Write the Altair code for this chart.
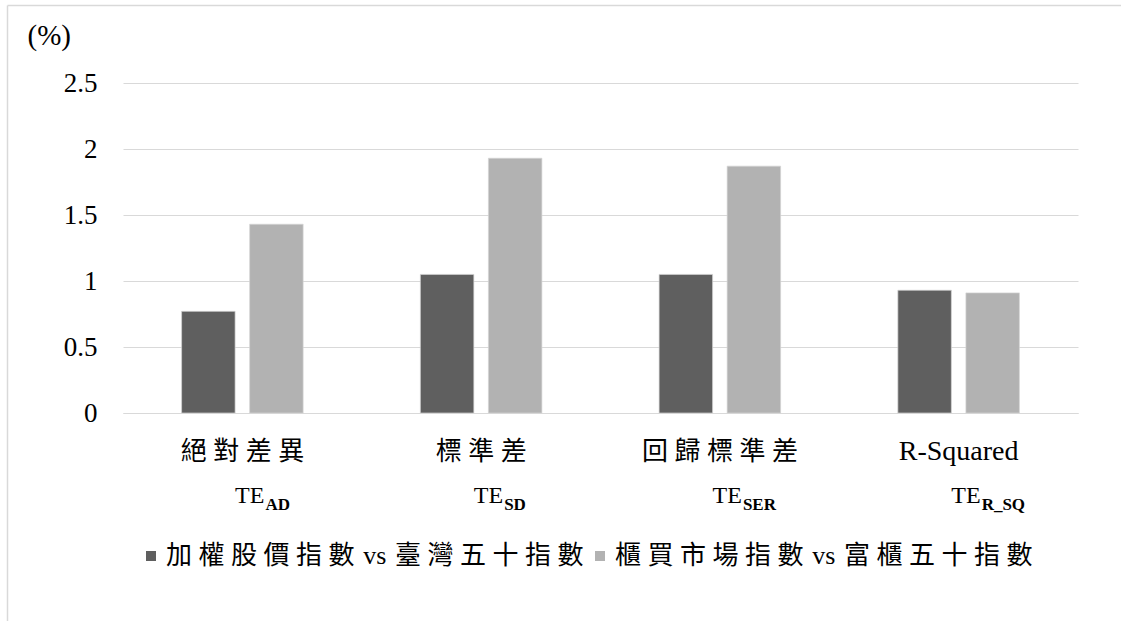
import altair as alt
import pandas as pd

# Tracking-error measures (category labels and their TE subscripts)
categories = ["絕對差異", "標準差", "回歸標準差", "R-Squared"]
subscripts = ["AD", "SD", "SER", "R_SQ"]

# Index pairs compared
series = ["加權股價指數 vs 臺灣五十指數", "櫃買市場指數 vs 富櫃五十指數"]

# Values in percent
taiex_vs_tw50 = [0.77, 1.05, 1.05, 0.93]
otc_vs_gtsm50 = [1.43, 1.93, 1.87, 0.91]

colors = ["#5f5f5f", "#b2b2b2"]

serif = "'Liberation Serif', 'Noto Sans CJK TC'"
grid_color = "#d9d9d9"

rows = []
for name, vals in zip(series, [taiex_vs_tw50, otc_vs_gtsm50]):
    for cat, v in zip(categories, vals):
        rows.append({"category": cat, "series": name, "value": v})
bars_df = pd.DataFrame(rows)
te_df = pd.DataFrame({"category": categories, "sub": subscripts})
frame_df = pd.DataFrame({"k": [0]})

W, H = 955, 330


def cjk_spacing(gap_char, word_space=None):
    """Vega expression that inserts a spacing character between CJK glyphs
    (and optionally widens the ordinary spaces)."""
    expr = (
        "replace(datum.label, regexp('([\u4e00-\u9fff])(?=[\u4e00-\u9fff])', 'g'), '$1"
        + gap_char
        + "')"
    )
    if word_space:
        expr = "replace(" + expr + ", regexp(' ', 'g'), '" + word_space + "')"
    return expr


x_enc = alt.X(
    "category:N",
    sort=categories,
    scale=alt.Scale(paddingInner=0.491, paddingOuter=0.2455),
    axis=alt.Axis(
        title=None,
        labelAngle=0,
        labelFont=serif,
        # Latin label set slightly larger than the CJK ones
        labelFontSize={"condition": {"test": "test(regexp('^[A-Za-z]'), datum.value)", "value": 28}, "value": 26},
        labelColor="#000000",
        labelPadding=38,
        labelBaseline="middle",
        labelExpr=cjk_spacing("\u2005"),
        ticks=False,
        domainColor=grid_color,
        domainWidth=1,
        grid=False,
    ),
)

bars = alt.Chart(bars_df).mark_bar(stroke="#d4d4d4", strokeWidth=0.7).encode(
    x=x_enc,
    xOffset=alt.XOffset(
        "series:N", sort=series, scale=alt.Scale(paddingInner=0.214, paddingOuter=0)
    ),
    y=alt.Y(
        "value:Q",
        scale=alt.Scale(domain=[0, 2.5], nice=False),
        axis=alt.Axis(
            title="(%)",
            titleAngle=0,
            titleX=-96,
            titleY=-48,
            titleAlign="left",
            titleBaseline="middle",
            titleFont=serif,
            titleFontSize=29,
            titleFontWeight="normal",
            titleColor="#000000",
            values=[0, 0.5, 1, 1.5, 2, 2.5],
            format="~g",
            labelFont=serif,
            labelFontSize=27,
            labelColor="#000000",
            labelPadding=26,
            ticks=False,
            domain=False,
            gridColor=grid_color,
            gridWidth=1,
        ),
    ),
    color=alt.Color(
        "series:N",
        sort=series,
        scale=alt.Scale(domain=series, range=colors),
        legend=alt.Legend(
            title=None,
            orient="none",
            direction="horizontal",
            columns=2,
            legendX=15,
            legendY=460,
            symbolType="square",
            symbolSize=100,
            symbolStrokeWidth=0,
            labelFont=serif,
            labelFontSize=26,
            labelColor="#000000",
            labelOffset=2,
            labelLimit=600,
            labelExpr=cjk_spacing("\u2005", "\u2004"),
            columnPadding=3,
        ),
    ),
)

te_main = alt.Chart(te_df).mark_text(
    align="right", baseline="alphabetic", dx=22, font=serif, fontSize=24, color="#000000"
).encode(x=alt.X("category:N", sort=categories), y=alt.value(420), text=alt.value("TE"))

te_sub = alt.Chart(te_df).mark_text(
    align="left", baseline="alphabetic", dx=23, font=serif, fontSize=17,
    fontWeight="bold", color="#000000"
).encode(x=alt.X("category:N", sort=categories), y=alt.value(427), text="sub:N")

# light frame along the top and left edges
frame_left = alt.Chart(frame_df).mark_rule(color=grid_color, strokeWidth=1.5).encode(
    x=alt.value(-115.5), y=alt.value(-77.5), y2=alt.value(H + 215)
)
frame_top = alt.Chart(frame_df).mark_rule(color=grid_color, strokeWidth=1.5).encode(
    x=alt.value(-115.5), x2=alt.value(W + 50), y=alt.value(-77.5)
)

chart = (
    alt.layer(frame_left, frame_top, bars, te_main, te_sub)
    .properties(
        width=W,
        height=H,
        autosize=alt.AutoSizeParams(type="none"),
        padding={"left": 123, "top": 83, "right": 43, "bottom": 208},
        background="#ffffff",
    )
    .configure_view(stroke=None)
)

chart.save("out.html", embed_options={"renderer": "svg", "actions": False})
